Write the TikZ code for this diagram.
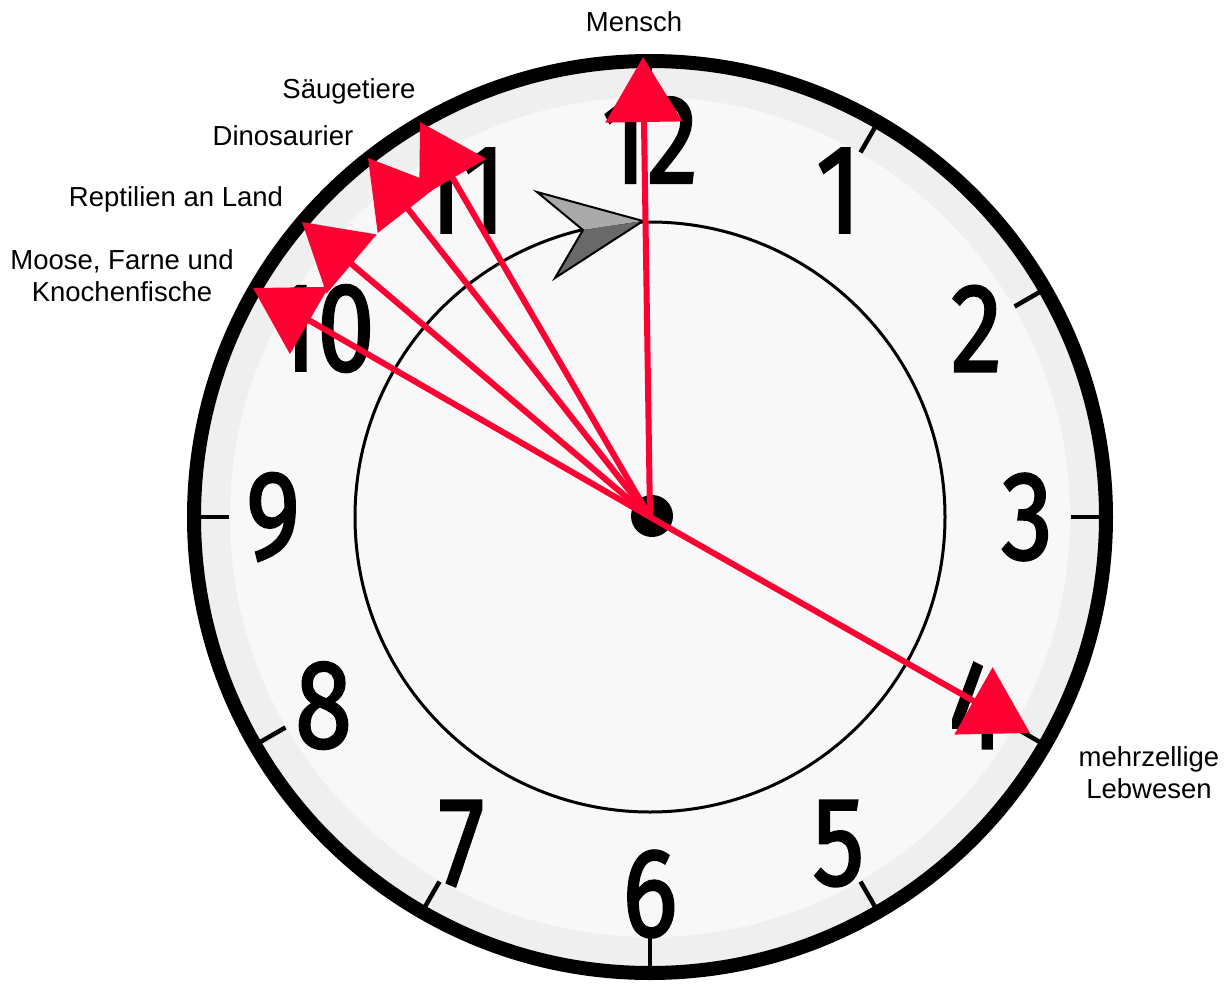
\documentclass[tikz,border=0pt]{standalone}
\usepackage{fontspec}
\setmainfont{Liberation Sans}
\newfontfamily\digitfont[FakeBold=2]{Fira Sans}
\usetikzlibrary{arrows.meta}
\definecolor{arrowred}{RGB}{255,0,51}
\definecolor{faceband}{RGB}{239,239,239}
\definecolor{facefill}{RGB}{248,248,248}
\definecolor{lightgrey}{RGB}{170,170,170}
\definecolor{darkgrey}{RGB}{105,105,105}
\tikzset{
  lbl/.style={font=\fontsize{27.5}{32}\selectfont, align=center, inner sep=0pt},
  digit/.style={font=\digitfont\fontsize{126}{126}\selectfont, inner sep=0pt, xscale=0.82},
  tick/.style={line width=4.5pt, line cap=butt},
  redarrow/.style={draw=arrowred, line width=6pt, -{Triangle[length=65pt,width=76pt]}, arrowred},
}
\begin{document}
\begin{tikzpicture}[x=1pt,y=-1pt]
\useasboundingbox (0,0) rectangle (1227,985);
\coordinate (c) at (650,517);
% clock face
\fill[faceband] (c) circle (452);
\fill[facefill] (c) circle (420);
\draw[line width=14pt] (c) circle (456);
\draw[line width=3pt] (c) circle (295);
% ticks and digits
\foreach \h in {1,...,12}{
  \draw[tick] ({650+421*sin(30*\h)},{517-421*cos(30*\h)}) -- ({650+452*sin(30*\h)},{517-452*cos(30*\h)});
  \node[digit] (d\h) at ({650+377*sin(30*\h)},{517-377*cos(30*\h)}) {\h};
}
% grey direction arrowhead on inner circle
\coordinate (gtip) at (643,221);
\coordinate (gtop) at (537,192);
\coordinate (gnotch) at (583,230);
\coordinate (gbot) at (555,278);
\fill[lightgrey] (gtip) -- (gtop) -- (gnotch) -- cycle;
\fill[darkgrey] (gtip) -- (gnotch) -- (gbot) -- cycle;
\draw[line width=2pt, line join=miter] (gtip) -- (gtop) -- (gnotch) -- (gbot) -- cycle;
% arrow tips
\coordinate (tMensch) at (643,57);
\coordinate (tSaeug) at (420,122);
\coordinate (tDino) at (368,158);
\coordinate (tRept) at (302,222);
\coordinate (tMoose) at (253,288);
\coordinate (tMehr) at (1030,733);
% centre dot
\fill (652,516) circle (21);
% red arrows
\draw[redarrow] (c) -- (tMoose);
\draw[redarrow] (c) -- (tRept);
\draw[redarrow] (c) -- (tDino);
\draw[redarrow] (c) -- (tSaeug);
\draw[redarrow] (c) -- (tMensch);
\draw[redarrow] (c) -- (tMehr);
% labels
\node[lbl] (lMensch) at (634,22) {Mensch};
\node[lbl] (lSaeug) at (349,91) {Säugetiere};
\node[lbl] (lDino) at (283,136) {Dinosaurier};
\node[lbl] (lRept) at (176,199) {Reptilien an Land};
\node[lbl] (lMoose) at (122,276) {Moose, Farne und\\Knochenfische};
\node[lbl] (lMehr) at (1149,773) {mehrzellige\\Lebwesen};
\end{tikzpicture}
\end{document}
